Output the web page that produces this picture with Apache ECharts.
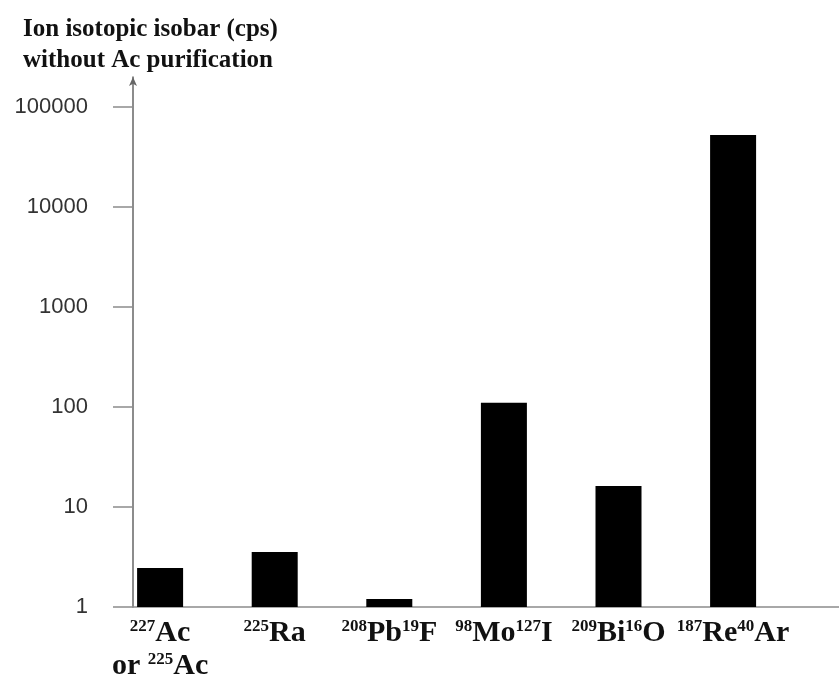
<!DOCTYPE html>
<html>
<head>
<meta charset="utf-8">
<script src="https://cdn.jsdelivr.net/npm/echarts@6/dist/echarts.min.js"></script>
<style>html,body{margin:0;padding:0;background:#fff;}#c{width:839px;height:679px;}</style>
</head>
<body>
<div id="c"></div>
<script>
// Data
var categories = ['^227Ac\nor ^225Ac', '^225Ra', '^208Pb^19F', '^98Mo^127I', '^209Bi^16O', '^187Re^40Ar'];
var values = [2.45, 3.55, 1.2, 110, 16.2, 52500];
var yTickLabels = ['1', '10', '100', '1000', '10000', '100000'];
var titleLines = ['Ion isotopic isobar (cps)', 'without Ac purification'];

function toRich(s) {
  return s.split('\n').map(function (line) {
    var out = '';
    var re = /\^(\d+)|([^\^]+)/g, m;
    while ((m = re.exec(line)) !== null) {
      if (m[1]) out += '{s|' + m[1] + '}';
      else out += '{b|' + m[2] + '}';
    }
    return out;
  }).join('\n');
}

var chart = echarts.init(document.getElementById('c'), null, {renderer: 'canvas'});
var axisColor = '#8c8c8c';
var option = {
  animation: false,
  backgroundColor: '#fff',
  title: {
    text: titleLines.join('\n'),
    left: 18, top: 9,
    textStyle: {fontFamily: 'Liberation Serif', fontWeight: 'bold', fontSize: 25, lineHeight: 31, color: '#111'}
  },
  grid: [
    {left: 102.8, right: 48.6, top: 107, bottom: 72, outerBoundsMode: 'none'},
    {left: 133, right: 0, top: 77, bottom: 72, outerBoundsMode: 'none'}
  ],
  xAxis: [
    {
      type: 'category', gridIndex: 0, data: categories,
      axisLine: {show: false}, axisTick: {show: false},
      axisLabel: {
        margin: 10, interval: 0, color: '#111',
        formatter: function (v) { return toRich(v); },
        rich: {
          b: {fontFamily: 'Liberation Serif', fontWeight: 'bold', fontSize: 30, lineHeight: 33, color: '#111'},
          s: {fontFamily: 'Liberation Serif', fontWeight: 'bold', fontSize: 17, lineHeight: 33, color: '#111', padding: [0, 0, 14, 0]}
        }
      }
    },
    {
      type: 'value', gridIndex: 1, min: 0, max: 1,
      axisLine: {show: true, lineStyle: {color: axisColor, width: 1.5}},
      axisTick: {show: false}, axisLabel: {show: false}, splitLine: {show: false}
    }
  ],
  yAxis: [
    {
      type: 'log', gridIndex: 0, min: 1, max: 100000, logBase: 10, offset: -30.2,
      axisLine: {show: false},
      axisTick: {show: true, length: 20, lineStyle: {color: axisColor, width: 1.5}},
      splitLine: {show: false},
      axisLabel: {
        margin: 45, color: '#333', fontFamily: 'Liberation Sans', fontSize: 22,
        formatter: function (v) {
          var i = Math.round(Math.log10(v));
          return yTickLabels[i] !== undefined ? yTickLabels[i] : '';
        }
      }
    },
    {
      type: 'value', gridIndex: 1, min: 0, max: 1,
      axisLine: {show: true, symbol: ['none', 'arrow'], symbolSize: [6, 9], lineStyle: {color: '#666', width: 1.5}},
      axisTick: {show: false}, axisLabel: {show: false}, splitLine: {show: false}
    }
  ],
  series: [{
    type: 'bar', xAxisIndex: 0, yAxisIndex: 0,
    data: values, barWidth: 46,
    itemStyle: {color: '#000'}
  }]
};
chart.setOption(option);
</script>
</body>
</html>
